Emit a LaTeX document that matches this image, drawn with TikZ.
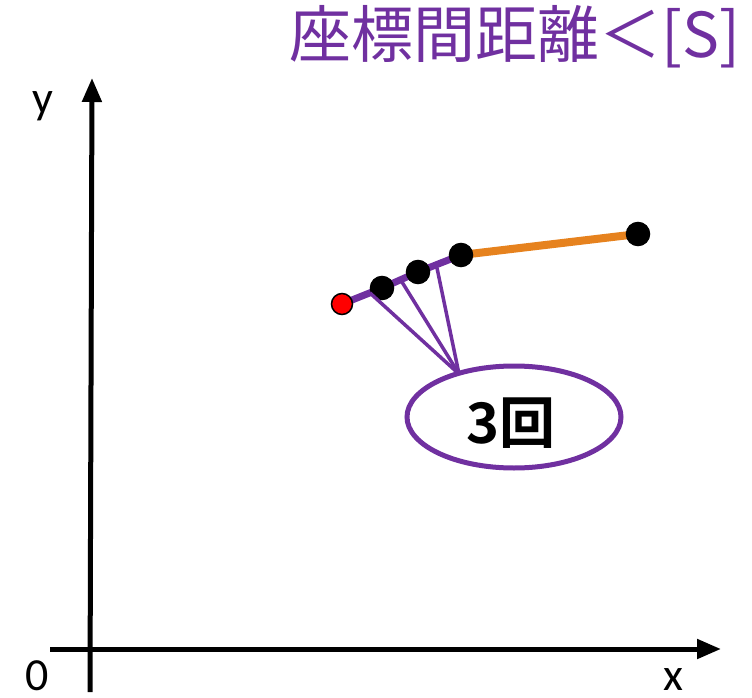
\documentclass[tikz,border=0pt]{standalone}
\usepackage{fontspec}
\setmainfont{Carlito}
\newfontfamily\cjk{Noto Sans CJK JP}
\newfontfamily\cjkb{Noto Sans CJK JP Bold}
\usetikzlibrary{arrows.meta,backgrounds}
\definecolor{vio}{HTML}{7030A0}
\definecolor{org}{HTML}{E6821E}
\tikzset{
  axis/.style={line width=5pt,-{Triangle[length=24pt,width=19pt]}},
  pt/.style={circle,fill=black,draw=black,line width=1.5pt,minimum width=21pt,minimum height=23pt,inner sep=0pt},
  redpt/.style={pt,fill=red,minimum width=19pt,minimum height=21pt},
  thinl/.style={vio,line width=3.5pt},
  lbl/.style={font=\fontsize{46}{46}\selectfont,inner sep=0pt}
}
\begin{document}
\begin{tikzpicture}[x=1pt,y=-1pt]
\useasboundingbox (0,0) rectangle (752,698);
\coordinate (yb) at (90,692);
\coordinate (yt) at (92,78);
\coordinate (xl) at (50,649);
\coordinate (xr) at (721,649);
\draw[axis] (yb) -- (yt);
\draw[axis] (xl) -- (xr);
\node[lbl] (zero) at (37,676) {0};
\node[lbl] (xlab) at (673,680) {x};
\node[lbl] (ylab) at (43,106) {y};
\node[font=\cjk\fontsize{62}{62}\selectfont,text=vio,inner sep=0pt] (title) at (515,37) {座標間距離＜[S]};
% points
\node[redpt] (p0) at (342,304) {};
\node[pt] (p1) at (382,288) {};
\node[pt] (p2) at (418,272) {};
\node[pt] (p3) at (461,255) {};
\node[pt] (p4) at (638,234) {};
\begin{scope}[on background layer]
\draw[vio,line width=7pt] (p0.center) -- (p1.center) -- (p2.center) -- (p3.center);
\draw[org,line width=8pt] (p3.center) -- (p4.center);
\end{scope}
% ellipse
\draw[vio,line width=5pt] (514,417) ellipse [x radius=107, y radius=51];
\node[font=\cjkb\fontsize{56}{56}\selectfont,inner sep=0pt] (cnt) at (511,423) {3回};
\coordinate (m1) at (370,293);
\coordinate (m2) at (402,282);
\coordinate (m3) at (437,268);
\coordinate (tip) at (459,374);
\draw[thinl] (m1) -- (tip);
\draw[thinl] (m2) -- (tip);
\draw[thinl] (m3) -- (tip);
\end{tikzpicture}
\end{document}
